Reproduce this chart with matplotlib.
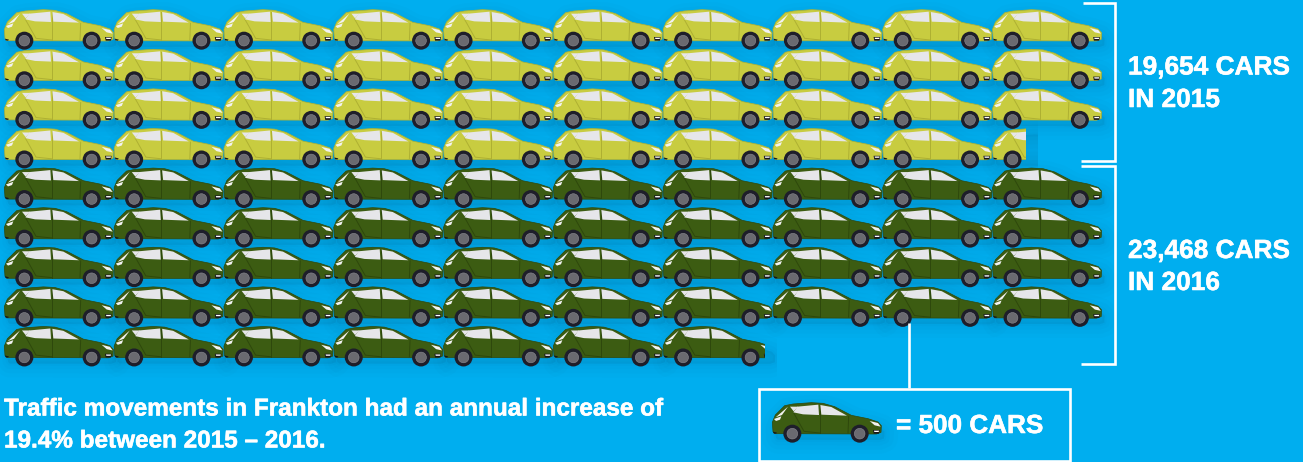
import numpy as np
import matplotlib
matplotlib.use("Agg")
import matplotlib.pyplot as plt
import matplotlib.patheffects as pe
from matplotlib.patches import Polygon, Circle, Rectangle
from matplotlib.transforms import Affine2D

years = [2015, 2016]
cars_total = [19654, 23468]
cars_per_icon = 500
per_row = 10
year_labels = ["19,654 CARS\nIN 2015", "23,468 CARS\nIN 2016"]
note = "Traffic movements in Frankton had an annual increase of\n19.4% between 2015 – 2016."
key_label = "= 500 CARS"

bg = "#00aeef"
body_colors = {2015: ("#c8cc40", "#aeb032"), 2016: ("#3c5c12", "#2e480c")}

# car icon outline, 3x units, origin at top left of the cell
body = [(15,116),(13,88),(22,66),(50,38),(75,33),(130,29),(165,31),(200,41),(250,67),(300,77),
        (330,87),(340,98),(339,118),(325,123),(20,122)]
win1 = [(88,41),(151,35),(153,66),(105,64),(76,58)]
win2 = [(157,36),(190,42),(237,68),(160,65)]
quarter = [(66,41),(90,41),(77,55)]
rear_glass = [(23,73),(42,66),(60,41)]
rear_lamp = [(18,78),(40,70),(36,80),(24,84)]
head_lamp = [(305,84),(330,90),(338,101),(320,97)]
grille = [(315,111),(335,111),(333,122),(317,122)]
door_lines = [[(155,36),(155,120)],[(242,70),(240,120)],[(76,58),(108,115),(155,120)]]
wheels = [(73,122),(275,122)]


def draw_shadow(ax, x0, y0, clip_w=None):
    tr = Affine2D().scale(1/3).translate(x0+3, y0+6) + ax.transData
    for lw, a in [(20, 0.018), (14, 0.022), (8, 0.025), (3, 0.03)]:
        p = Polygon(body, closed=True, fc="#00507a", ec="#00507a", lw=lw, alpha=a, transform=tr, zorder=1, joinstyle="round")
        ax.add_patch(p)
        if clip_w is not None:
            p.set_clip_path(Rectangle((x0-10, y0-10), clip_w+22, 80, transform=ax.transData))


def draw_car(ax, x0, y0, year, clip_w=None):
    tr = Affine2D().scale(1/3).translate(x0, y0) + ax.transData
    col, dark = body_colors[year]
    items = []
    items.append(Polygon(body, closed=True, fc=col, ec=dark, lw=0.5, transform=tr, zorder=3))
    for w in [win1, win2, quarter]:
        items.append(Polygon(w, closed=True, fc="#e6e6ea", ec="none", transform=tr, zorder=4))
    for w in [rear_glass, rear_lamp, head_lamp]:
        items.append(Polygon(w, closed=True, fc="#f2f2f2", ec="none", transform=tr, zorder=4))
    items.append(Polygon(grille, closed=True, fc="#15151c", ec="none", transform=tr, zorder=4))
    items.append(Polygon([(318,113),(333,113),(332,117),(319,117)], closed=True, fc="white", ec="none", transform=tr, zorder=4))
    items.append(Polygon([(15,116),(27,119),(24,122),(17,121)], closed=True, fc="#15151c", ec="none", transform=tr, zorder=4))
    for ln in door_lines:
        xs, ys = zip(*ln)
        items.append(ax.plot(xs, ys, color=dark, lw=0.7, transform=tr, zorder=4)[0])
    for c in wheels:
        items.append(Circle(c, 27, fc="#1e1e2a", ec="none", transform=tr, zorder=5))
        items.append(Circle(c, 16, fc="#6a6a70", ec="#8a8a90", lw=0.4, transform=tr, zorder=6))
    for it in items:
        if not it.axes:
            ax.add_patch(it)
        if clip_w is not None:
            it.set_clip_path(Rectangle((x0, y0-5), clip_w, 70, transform=ax.transData))


plt.rcParams["font.family"] = ["Liberation Sans", "DejaVu Sans"]
fig = plt.figure(figsize=(13.03, 4.62), dpi=100, facecolor=bg)
ax = fig.add_axes([0, 0, 1, 1])
ax.set_xlim(0, 1303)
ax.set_ylim(462, 0)
ax.axis("off")

# one icon per 500 cars, the remainder drawn as a cut-off icon
start_x, start_y = 0, 0
pitch_x, pitch_y = 109.8, 39.6
icon_w = 109
row = 0
for year, total in zip(years, cars_total):
    n = total/cars_per_icon
    for i in range(int(np.ceil(n))):
        frac = n-i
        r = row + i//per_row
        c = i % per_row
        x0 = start_x + c*pitch_x
        y0 = start_y + r*pitch_y
        clip_w = None if frac >= 1 else 4 + frac*icon_w
        draw_shadow(ax, x0, y0, clip_w)
        draw_car(ax, x0, y0, year, clip_w)
    row += int(np.ceil(n/per_row))

# brackets and key box
lw = 1.9
white = dict(color="white", lw=lw, solid_capstyle="butt", solid_joinstyle="miter", zorder=7)
ax.plot([1083, 1115, 1115, 1081], [2.5, 2.5, 161, 161], **white)
ax.plot([1081, 1115, 1115, 1081], [166, 166, 364, 364], **white)
ax.plot([909, 909], [323, 388], **white)
ax.add_patch(Rectangle((758.5, 389), 311, 71.5, fc="none", ec="white", lw=lw, zorder=7))

heavy = [pe.withStroke(linewidth=0.4, foreground="white")]
txt = dict(color="white", fontweight="bold", va="center", zorder=8, path_effects=heavy)
ax.text(1128, 67.5, year_labels[0].split("\n")[0], fontsize=18.9, **txt)
ax.text(1128, 100, year_labels[0].split("\n")[1], fontsize=18.9, **txt)
ax.text(1128, 251, year_labels[1].split("\n")[0], fontsize=18.9, **txt)
ax.text(1128, 283, year_labels[1].split("\n")[1], fontsize=18.9, **txt)
ax.text(4, 409, note.split("\n")[0], fontsize=17.5, **txt)
ax.text(4, 441, note.split("\n")[1], fontsize=17.5, **txt)

draw_shadow(ax, 768, 393)
draw_car(ax, 768, 393, 2016)
ax.text(896, 426, key_label, fontsize=18.8, **txt)

fig.savefig("out.png", dpi=100, facecolor=bg)
